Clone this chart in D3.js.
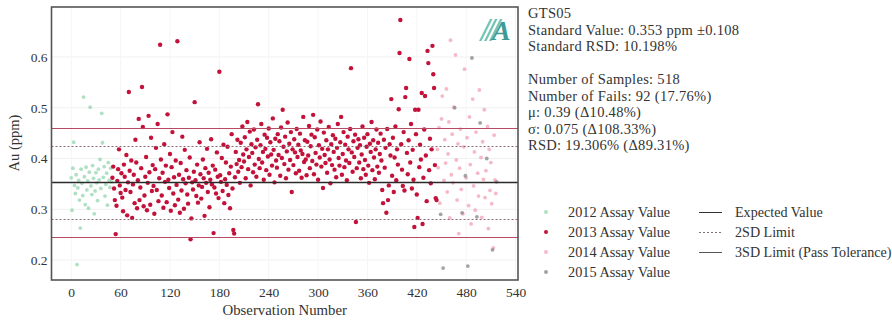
<!DOCTYPE html>
<html><head><meta charset="utf-8">
<script src="https://cdn.jsdelivr.net/npm/d3@7"></script>
<style>body{margin:0;background:#fff}svg{display:block}text{font-family:"Liberation Serif",serif;fill:#333}</style>
</head><body><svg id="c" width="892" height="322"></svg>
<script>
// ---- data ----
const xTicks = [0,60,120,180,240,300,360,420,480,540];
const yTicks = [0.2,0.3,0.4,0.5,0.6];
const expected = 0.353;
const limit2SD = [0.281, 0.425];
const limit3SD = [0.245, 0.461];
const start2012 = 0;
const vals2012 = [0.362,0.298,0.381,0.432,0.347,0.331,0.368,0.191,0.342,0.357,
  0.318,0.263,0.379,0.351,0.327,0.521,0.364,0.309,0.383,0.338,
  0.356,0.302,0.373,0.501,0.346,0.329,0.386,0.361,0.291,0.336,
  0.372,0.352,0.317,0.379,0.358,0.398,0.341,0.489,0.431,0.363,
  0.384,0.326,0.349,0.371,0.308,0.392,0.357,0.343,0.381,0.354];
const start2013 = 50;
const vals2013 = [
  0.362,0.384,0.341,0.318,0.251,0.307,0.356,0.379,0.418,0.347,0.332,0.371,0.323,0.296,0.388,0.364,0.338,0.407,0.288,0.353,
  0.531,0.376,0.334,0.396,0.283,0.349,0.368,0.312,0.437,0.392,0.302,0.357,0.478,0.318,0.343,0.381,0.541,0.462,0.306,0.327,
  0.364,0.403,0.298,0.352,0.484,0.373,0.309,0.441,0.336,0.387,0.346,0.291,0.379,0.421,0.338,0.468,0.316,0.361,0.624,0.398,
  0.327,0.372,0.303,0.428,0.354,0.386,0.314,0.487,0.358,0.342,0.409,0.297,0.383,0.452,0.331,0.363,0.308,0.396,0.348,0.631,
  0.319,0.368,0.293,0.391,0.337,0.443,0.359,0.301,0.417,0.351,0.377,0.329,0.311,0.362,0.402,0.241,0.282,0.353,0.339,0.374,
  0.511,0.357,0.326,0.388,0.313,0.347,0.432,0.369,0.321,0.344,0.398,0.361,0.287,0.381,0.352,0.419,0.334,0.372,0.304,0.358,
  0.438,0.349,0.386,0.253,0.343,0.378,0.331,0.412,0.364,0.322,0.571,0.367,0.354,0.401,0.336,0.427,0.312,0.359,0.392,0.348,
  0.423,0.328,0.371,0.302,0.384,0.448,0.341,0.259,0.252,0.363,0.413,0.389,0.437,0.374,0.397,0.352,0.431,0.383,0.463,0.408,
  0.394,0.442,0.361,0.418,0.472,0.379,0.403,0.453,0.347,0.428,0.411,0.373,0.457,0.388,0.422,0.364,0.437,0.507,0.399,0.381,
  0.426,0.468,0.392,0.413,0.358,0.447,0.419,0.377,0.441,0.404,0.459,0.368,0.432,0.408,0.386,0.479,0.417,0.353,0.439,0.396,
  0.382,0.448,0.407,0.434,0.366,0.461,0.401,0.496,0.423,0.389,0.443,0.361,0.414,0.471,0.378,0.429,0.397,0.452,0.334,0.418,
  0.387,0.438,0.412,0.371,0.458,0.403,0.427,0.376,0.449,0.416,0.362,0.409,0.482,0.393,0.436,0.398,0.367,0.433,0.406,0.464,
  0.381,0.424,0.447,0.395,0.486,0.369,0.442,0.411,0.388,0.457,0.358,0.426,0.402,0.473,0.384,0.419,0.342,0.451,0.407,0.391,
  0.436,0.372,0.418,0.462,0.398,0.351,0.428,0.387,0.446,0.413,0.378,0.439,0.363,0.421,0.468,0.401,0.386,0.432,0.482,0.368,
  0.409,0.452,0.383,0.427,0.396,0.357,0.443,0.418,0.391,0.458,0.578,0.412,0.374,0.434,0.403,0.447,0.275,0.381,0.421,0.438,
  0.392,0.426,0.361,0.408,0.463,0.379,0.441,0.397,0.368,0.423,0.448,0.386,0.352,0.429,0.413,0.472,0.377,0.436,0.402,0.359,
  0.418,0.457,0.384,0.431,0.372,0.409,0.449,0.396,0.338,0.312,0.437,0.382,0.421,0.293,0.458,0.318,0.347,0.428,0.406,0.517,
  0.366,0.441,0.334,0.402,0.463,0.357,0.418,0.388,0.497,0.608,0.673,0.428,0.378,0.346,0.452,0.337,0.521,0.539,0.411,0.369,
  0.436,0.596,0.392,0.468,0.341,0.417,0.358,0.265,0.496,0.448,0.329,0.283,0.496,0.383,0.427,0.398,0.529,0.271,0.362,0.457,
  0.523,0.406,0.316,0.612,0.588,0.377,0.439,0.351,0.418,0.622,0.566,0.539,0.387,0.322,0.318];
const start2014 = 445;
const vals2014 = [0.418,0.382,0.461,0.312,0.478,0.523,0.357,0.437,0.391,0.537,
  0.334,0.409,0.472,0.283,0.633,0.368,0.448,0.352,0.501,0.604,
  0.397,0.318,0.429,0.252,0.381,0.458,0.339,0.291,0.423,0.576,
  0.362,0.441,0.307,0.482,0.388,0.271,0.517,0.346,0.413,0.298,
  0.452,0.371,0.326,0.535,0.402,0.284,0.433,0.359,0.496,0.323,
  0.376,0.463,0.262,0.418,0.337,0.392,0.311,0.224,0.446,0.358,0.331];
const obs2015 = [449,452,466,475,479,482,487,493,497,505,512,517];
const vals2015 = [0.29,0.184,0.50,0.293,0.366,0.188,0.598,0.285,0.47,0.40,0.22,0.354];
const infoLines = ["GTS05","Standard Value: 0.353 ppm \u00B10.108","Standard RSD: 10.198%","",
  "Number of Samples: 518","Number of Fails: 92 (17.76%)","\u03BC: 0.39 (\u039410.48%)",
  "\u03C3: 0.075 (\u0394108.33%)","RSD: 19.306% (\u039489.31%)"];
const seriesNames = ["2012 Assay Value","2013 Assay Value","2014 Assay Value","2015 Assay Value"];
const lineNames = ["Expected Value","2SD Limit","3SD Limit (Pass Tolerance)"];

// ---- build points ----
const pts = [];
vals2012.forEach((v,i)=>pts.push({o:start2012+i,v,y:0}));
vals2013.forEach((v,i)=>pts.push({o:start2013+i,v,y:1}));
const set15 = new Set(obs2015);
let o = start2014;
vals2014.forEach(v=>{ while(set15.has(o)) o++; pts.push({o,v,y:2}); o++; });
obs2015.forEach((ob,i)=>pts.push({o:ob,v:vals2015[i],y:3}));

const svg = d3.select("#c");
const L=51.5,R=518,T=7,B=280;
const x = d3.scaleLinear().domain([-24,543]).range([L,R]);
const y = d3.scaleLinear().domain([0.1606,0.6985]).range([B,T]);
const styles = [
  {fill:"#8fd3a9",op:0.7,r:1.9},
  {fill:"#c3123a",op:1,r:2.2},
  {fill:"#f2a2b6",op:0.75,r:1.9},
  {fill:"#8c8c8c",op:0.8,r:1.9}
];

// grid
const g = svg.append("g");
g.selectAll(".gy").data(yTicks).join("line").attr("x1",L).attr("x2",R)
 .attr("y1",d=>y(d)).attr("y2",d=>y(d)).attr("stroke","#f0f0f0").attr("stroke-width",1);
g.selectAll(".gx").data(xTicks.filter(d=>d<=540)).join("line").attr("y1",T).attr("y2",B)
 .attr("x1",d=>x(d)).attr("x2",d=>x(d)).attr("stroke","#f5f5f5").attr("stroke-width",1);

// points (draw lighter first)
const order=[0,2,3,1];
order.forEach(k=>{
  g.selectAll(null).data(pts.filter(p=>p.y===k)).join("circle")
   .attr("cx",d=>x(d.o)).attr("cy",d=>y(d.v)).attr("r",styles[k].r)
   .attr("fill",styles[k].fill).attr("opacity",styles[k].op);
});

// reference lines (pixel-snapped)
const py = v => Math.round(y(v)) + 0.5;
const hl=(v,stroke,w,dash)=>g.append("line").attr("x1",L).attr("x2",R).attr("y1",py(v)).attr("y2",py(v))
  .attr("stroke",stroke).attr("stroke-width",w).attr("stroke-dasharray",dash||null);
limit3SD.forEach(v=>hl(v,"#b84a62",1.2));
limit2SD.forEach(v=>hl(v,"#8a6a72",1,"2,2"));
hl(expected,"#2a2a2a",1.5);

// frame
svg.append("rect").attr("x",L).attr("y",T).attr("width",R-L).attr("height",B-T)
 .attr("fill","none").attr("stroke","#555").attr("stroke-width",1.6);

// axes
const xa = svg.append("g").attr("transform",`translate(0,${B})`)
 .call(d3.axisBottom(x).tickValues(xTicks).tickSize(0).tickPadding(7).tickFormat(d3.format("d")));
const ya = svg.append("g").attr("transform",`translate(${L},0)`)
 .call(d3.axisLeft(y).tickValues(yTicks).tickSize(0).tickPadding(4).tickFormat(d3.format(".1f")));
[xa,ya].forEach(a=>{a.select(".domain").remove();a.selectAll("text").style("font-family","Liberation Serif").style("font-size","13.5px").attr("fill","#333");});

svg.append("text").attr("x",(L+R)/2).attr("y",315).attr("text-anchor","middle").attr("font-size",14.8).text("Observation Number");
svg.append("text").attr("transform","translate(19,143) rotate(-90)").attr("text-anchor","middle").attr("font-size",14.5).text("Au (ppm)");

// logo
const lg = svg.append("g").attr("transform","translate(479,13)");
[0,5,10].forEach(d=>lg.append("path").attr("d",`M${d},28 L${d+11},6 L${d+13.5},6 L${d+2.5},28Z`).attr("fill","#5cb8a8").attr("opacity",0.85));
lg.append("text").attr("x",13).attr("y",27).attr("font-family","DejaVu Sans").attr("font-weight","bold")
 .attr("font-style","italic").attr("font-size",28).style("fill","#3c9c95").text("A");

// info text
svg.append("g").selectAll("text").data(infoLines).join("text")
 .attr("x",528).attr("y",(d,i)=>18+i*16.5).attr("font-size",14.5).attr("letter-spacing",0.3).text(d=>d);

// legend
const lgd = svg.append("g");
seriesNames.forEach((n,i)=>{
  const yy = 212+i*20;
  lgd.append("circle").attr("cx",546).attr("cy",yy).attr("r",2).attr("fill",styles[i].fill).attr("opacity",styles[i].op);
  lgd.append("text").attr("x",568).attr("y",yy+4.8).attr("font-size",14.3).text(n);
});
const lstyle=[["#333",null],["#8a6a72","2,2"],["#555",null]];
lineNames.forEach((n,i)=>{
  const yy = 212.5+i*20;
  lgd.append("line").attr("x1",699).attr("x2",722).attr("y1",yy).attr("y2",yy)
   .attr("stroke",lstyle[i][0]).attr("stroke-width",1).attr("stroke-dasharray",lstyle[i][1]);
  lgd.append("text").attr("x",735).attr("y",yy+4.3).attr("font-size",14.1).text(n);
});
</script></body></html>
